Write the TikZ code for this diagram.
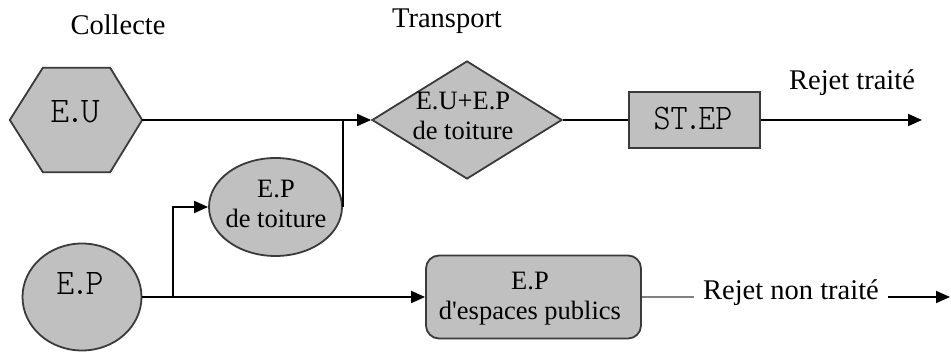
\documentclass[tikz,border=0pt]{standalone}
\usepackage{fontspec}
\setmainfont{Liberation Serif}
\newfontfamily\slabfont{Latin Modern Mono Light}
\usetikzlibrary{shapes.geometric,arrows.meta}

% condensed typewriter-style labels for the source/plant nodes
\newcommand{\codelabel}[2][0.9]{\scalebox{#1}[1]{\slabfont\fontsize{36}{40}\selectfont #2}}
% tight full stop between the abbreviation letters
\newcommand{\tdot}{\kern-0.1em.\kern-0.1em}

\definecolor{boxgrey}{HTML}{C0C0C0}
\definecolor{edgegrey}{HTML}{3A3A3A}
\definecolor{leakgrey}{HTML}{808080}

\begin{document}
\begin{tikzpicture}[x=1pt,y=-1pt,
  shapefill/.style={fill=boxgrey, draw=edgegrey, line width=1.8pt, inner sep=0pt},
  flow/.style={draw=black, line width=1.8pt},
  tip/.style={-{Triangle[length=14pt,width=12pt]}},
  leak/.style={draw=leakgrey, line width=2.4pt},
  heading/.style={font=\fontsize{28.5}{30}\selectfont, inner sep=0pt, anchor=base},
  inlabel/.style={font=\fontsize{26.5}{30}\selectfont, align=center, inner sep=0pt, anchor=base},
  codetext/.style={inner sep=0pt}]
\useasboundingbox (0,0) rectangle (951,352);

% column headings
\node[heading] (collecte) at (118,35) {Collecte};
\node[heading] (transport) at (447,28) {Transport};

% used water: hexagon drawn on an invisible frame
\node[minimum width=132pt, minimum height=104pt, inner sep=0pt] (eu) at (76,120) {};
\path[shapefill] (eu.west) -- ([xshift=33pt]eu.north west) -- ([xshift=-32pt]eu.north east)
  -- (eu.east) -- ([xshift=-32pt]eu.south east) -- ([xshift=33pt]eu.south west) -- cycle;
\node[codetext] (eulabel) at (75,112) {\codelabel[1]{E\tdot U}};

% rain water source
\node[ellipse, shapefill, minimum width=119pt, minimum height=107pt] (ep) at (82,297) {};
\node[codetext] (eplabel) at (80,284) {\codelabel[0.95]{E\tdot P}};

% roof rain water (base anchor sits on the last line)
\node[ellipse, shapefill, minimum width=133pt, minimum height=98pt] (roof) at (275.5,207) {};
\node[inlabel] (rooflabel) at (276,228) {E.P\\de toiture};

% combined transport
\node[diamond, shapefill, minimum width=190pt, minimum height=118pt] (mix) at (467,120) {};
\node[inlabel] (mixlabel) at (463,140) {E.U+E.P\\de toiture};

% treatment plant
\node[rectangle, shapefill, minimum width=131pt, minimum height=56pt] (plant) at (694.5,120) {};
\node[codetext] (plantlabel) at (693,119) {\codelabel{ST\tdot EP}};

% public spaces runoff
\node[rectangle, rounded corners=13pt, shapefill, minimum width=215pt, minimum height=83pt] (pub) at (533.5,297) {};
\node[inlabel] (publabel) at (530,320) {E.P\\d\textquotesingle espaces publics};

% outlets
\node[heading] (treated) at (852,90) {Rejet traité};
\node[heading, inner xsep=9pt] (untreated) at (791,300) {Rejet non traité};
\coordinate (treatedEnd) at (922,120);
\coordinate (untreatedEnd) at (950,297);
\coordinate (split) at (173,297);

% connectors
\draw[flow, tip] (eu.east) -- (mix.west);
\draw[flow] (roof.east) -- (roof.east |- mix.west);
\draw[flow] (mix.east) -- (plant.west);
\draw[flow, tip] (plant.east) -- (treatedEnd);
\draw[flow, tip] (ep.east) -- (pub.west);
\draw[flow, tip] (split) |- (roof.west);
\draw[leak] (pub.east) -- (untreated.west |- pub.east);
\draw[flow, tip] (untreated.east |- untreatedEnd) -- (untreatedEnd);
\end{tikzpicture}
\end{document}
